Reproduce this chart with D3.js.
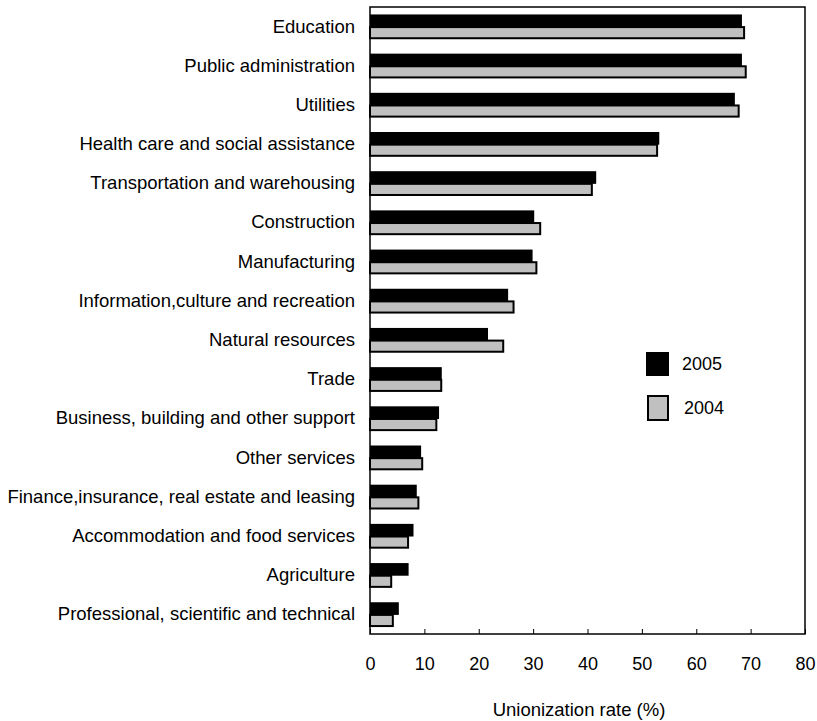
<!DOCTYPE html>
<html>
<head>
<meta charset="utf-8">
<script src="https://cdn.jsdelivr.net/npm/d3@7"></script>
<style>
  html, body { margin: 0; padding: 0; background: #fff; }
  svg text { font-family: "Liberation Sans", Arial, sans-serif; fill: #000; }
</style>
</head>
<body>
<svg id="chart" width="817" height="721"></svg>
<script>
const categories = [
  "Education",
  "Public administration",
  "Utilities",
  "Health care and social assistance",
  "Transportation and warehousing",
  "Construction",
  "Manufacturing",
  "Information,culture and recreation",
  "Natural resources",
  "Trade",
  "Business, building and other support",
  "Other services",
  "Finance,insurance, real estate and leasing",
  "Accommodation and food services",
  "Agriculture",
  "Professional, scientific and technical"
];
const values2005 = [68.4, 68.4, 67.1, 53.2, 41.6, 30.2, 29.9, 25.4, 21.7, 13.2, 12.7, 9.4, 8.6, 8.0, 7.1, 5.3];
const values2004 = [68.8, 69.1, 67.8, 52.8, 40.8, 31.3, 30.6, 26.4, 24.5, 13.1, 12.2, 9.6, 8.9, 7.0, 3.9, 4.2];
const seriesNames = ["2005", "2004"];
const xTicks = [0, 10, 20, 30, 40, 50, 60, 70, 80];
const xTitle = "Unionization rate (%)";

(function () {
const svg = d3.select("#chart");
const pL = 370, pR = 805, pT = 7, pB = 634;
const FS = "18px";
const FSL = "18.5px";
const FF = '"Liberation Sans", Arial, sans-serif';

const x = d3.scaleLinear().domain([0, 80]).range([pL, pR]);
const y = d3.scaleBand().domain(categories).range([pT, pB]).paddingInner(0.38).paddingOuter(0.19);
const sub = d3.scaleBand().domain(seriesNames).range([0, y.bandwidth()]).padding(0);

const g = svg.append("g");

g.selectAll("rect.b05").data(categories).enter().append("rect")
  .attr("class", "b05")
  .attr("x", x(0))
  .attr("y", (d) => y(d) + sub("2005"))
  .attr("width", (d, i) => x(values2005[i]) - x(0))
  .attr("height", sub.bandwidth() + 0.5)
  .attr("fill", "#000");

g.selectAll("rect.b04").data(categories).enter().append("rect")
  .attr("class", "b04")
  .attr("x", x(0))
  .attr("y", (d) => y(d) + sub("2004") + 0.5)
  .attr("width", (d, i) => x(values2004[i]) - x(0))
  .attr("height", sub.bandwidth() - 1)
  .attr("fill", "#c0c0c0")
  .attr("stroke", "#000")
  .attr("stroke-width", 2);

svg.append("rect")
  .attr("x", pL).attr("y", pT)
  .attr("width", pR - pL).attr("height", pB - pT)
  .attr("fill", "none").attr("stroke", "#000").attr("stroke-width", 1.5);

const xAxis = d3.axisBottom(x).tickValues(xTicks).tickSizeInner(-5).tickSizeOuter(0).tickPadding(23);
const ax = svg.append("g").attr("transform", `translate(0,${pB})`).call(xAxis);
ax.select(".domain").remove();
ax.selectAll(".tick line").attr("stroke", "#000").attr("stroke-width", 1);
ax.selectAll(".tick text").style("font-size", FS).style("font-family", FF);

const yAxis = d3.axisLeft(y).tickSize(0).tickPadding(15);
const ay = svg.append("g").attr("transform", `translate(${pL},0)`).call(yAxis);
ay.select(".domain").remove();
ay.selectAll(".tick text").style("font-size", FSL).style("font-family", FF);

svg.append("text")
  .attr("x", 579)
  .attr("y", 716)
  .attr("text-anchor", "middle")
  .style("font-size", FSL)
  .text(xTitle);

const legend = [
  { name: "2005", fill: "#000", stroke: "none", y: 352 },
  { name: "2004", fill: "#c0c0c0", stroke: "#000", y: 396 }
];
const lg = svg.append("g");
lg.selectAll("rect").data(legend).enter().append("rect")
  .attr("x", (d) => d.stroke === "none" ? 646 : 648)
  .attr("y", (d) => d.y)
  .attr("width", (d) => d.stroke === "none" ? 23 : 20)
  .attr("height", 24)
  .attr("fill", (d) => d.fill)
  .attr("stroke", (d) => d.stroke)
  .attr("stroke-width", 2);
lg.selectAll("text").data(legend).enter().append("text")
  .attr("x", (d) => d.stroke === "none" ? 682 : 684)
  .attr("y", (d) => d.y + 12)
  .attr("dy", "0.35em")
  .style("font-size", FS)
  .text((d) => d.name);
})();
</script>
</body>
</html>
